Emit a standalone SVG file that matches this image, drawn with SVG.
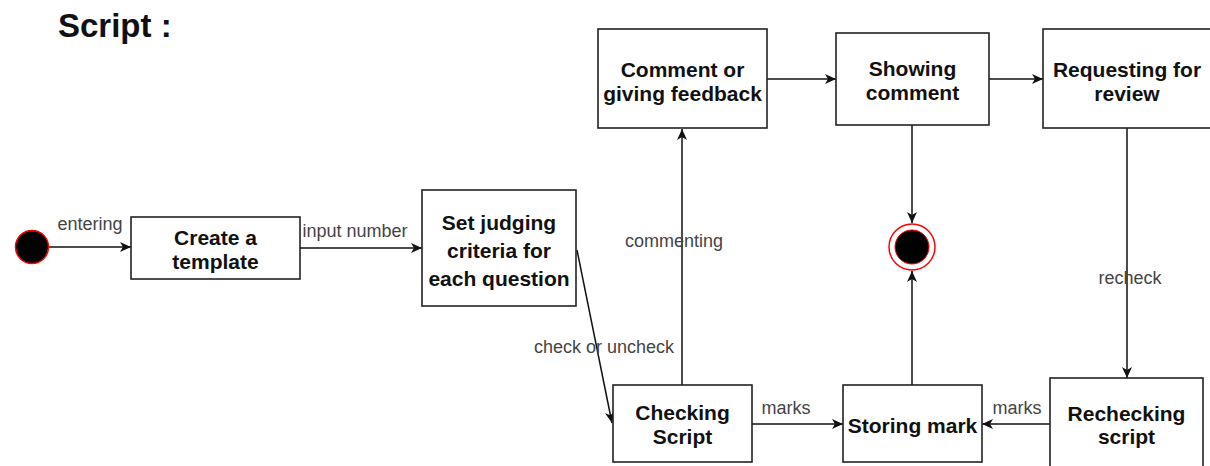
<svg xmlns="http://www.w3.org/2000/svg" width="1210" height="466" viewBox="0 0 1210 466">
  <style>
    .box { fill: #ffffff; stroke: #222222; stroke-width: 1.6; }
    .node-text { font-family: "Liberation Sans", Arial, sans-serif; font-size: 21px; font-weight: bold; fill: #111111; text-anchor: middle; }
    .label { font-family: "Liberation Sans", Arial, sans-serif; font-size: 18px; fill: #444444; text-anchor: middle; }
    .title { font-family: "Liberation Sans", Arial, sans-serif; font-size: 33px; font-weight: bold; fill: #111111; }
    .edge { fill: none; stroke: #111111; stroke-width: 1.5; marker-end: url(#arrow); }
  </style>
  <defs>
    <marker id="arrow" markerUnits="userSpaceOnUse" markerWidth="12" markerHeight="10" refX="11" refY="5" orient="auto">
      <path d="M0,0 L11,5 L0,10 L3,5 Z" fill="#111111"/>
    </marker>
  </defs>

  <rect width="1210" height="466" fill="#ffffff"/>

  <text class="title" x="58" y="37">Script :</text>

  <!-- transitions -->
  <g id="connectors">
    <line class="edge" x1="49" y1="247" x2="131" y2="247"/>
    <line class="edge" x1="300" y1="248" x2="422" y2="248"/>
    <line class="edge" x1="577" y1="250" x2="612" y2="423"/>
    <line class="edge" x1="682" y1="385" x2="682" y2="129"/>
    <line class="edge" x1="767" y1="79" x2="836" y2="79"/>
    <line class="edge" x1="989" y1="79" x2="1043" y2="79"/>
    <line class="edge" x1="912" y1="125" x2="912" y2="223"/>
    <line class="edge" x1="1127" y1="128" x2="1127" y2="378"/>
    <line class="edge" x1="1050" y1="424" x2="982" y2="424"/>
    <line class="edge" x1="752" y1="424" x2="843" y2="424"/>
    <line class="edge" x1="912" y1="385" x2="912" y2="271"/>

    <text class="label" x="90" y="230">entering</text>
    <text class="label" x="355" y="237">input number</text>
    <text class="label" x="604" y="353">check or uncheck</text>
    <text class="label" x="674" y="247">commenting</text>
    <text class="label" x="786" y="414">marks</text>
    <text class="label" x="1017" y="414">marks</text>
    <text class="label" x="1130" y="284">recheck</text>
  </g>

  <!-- initial state -->
  <g id="start">
    <circle cx="32" cy="247" r="16.5" fill="#000000" stroke="#ff0000" stroke-width="1.5"/>
  </g>

  <g id="create-template">
    <rect class="box" x="131" y="217" width="169" height="62"/>
    <text class="node-text" x="215.5" y="245">Create a</text>
    <text class="node-text" x="215.5" y="269">template</text>
  </g>

  <g id="set-criteria">
    <rect class="box" x="422" y="190" width="154" height="116"/>
    <text class="node-text" x="499" y="230">Set judging</text>
    <text class="node-text" x="499" y="258">criteria for</text>
    <text class="node-text" x="499" y="286">each question</text>
  </g>

  <g id="checking-script">
    <rect class="box" x="613" y="385" width="139" height="77"/>
    <text class="node-text" x="682.5" y="420">Checking</text>
    <text class="node-text" x="682.5" y="444">Script</text>
  </g>

  <g id="comment-feedback">
    <rect class="box" x="598" y="29" width="169" height="99"/>
    <text class="node-text" x="682.5" y="77">Comment or</text>
    <text class="node-text" x="682.5" y="101">giving feedback</text>
  </g>

  <g id="showing-comment">
    <rect class="box" x="836" y="33" width="153" height="92"/>
    <text class="node-text" x="912.5" y="76">Showing</text>
    <text class="node-text" x="912.5" y="100">comment</text>
  </g>

  <g id="requesting-review">
    <rect class="box" x="1043" y="29" width="168" height="99"/>
    <text class="node-text" x="1127" y="77">Requesting for</text>
    <text class="node-text" x="1127" y="101">review</text>
  </g>

  <g id="storing-mark">
    <rect class="box" x="843" y="385" width="139" height="77"/>
    <text class="node-text" x="912.5" y="433">Storing mark</text>
  </g>

  <g id="rechecking-script">
    <rect class="box" x="1050" y="378" width="153" height="96"/>
    <text class="node-text" x="1126.5" y="421">Rechecking</text>
    <text class="node-text" x="1126.5" y="444">script</text>
  </g>

  <!-- final state -->
  <g id="end">
    <circle cx="912" cy="247" r="23" fill="#ffffff" stroke="#ff0000" stroke-width="1.5"/>
    <circle cx="912" cy="247" r="17" fill="#000000" stroke="#ff0000" stroke-width="1"/>
  </g>
</svg>
